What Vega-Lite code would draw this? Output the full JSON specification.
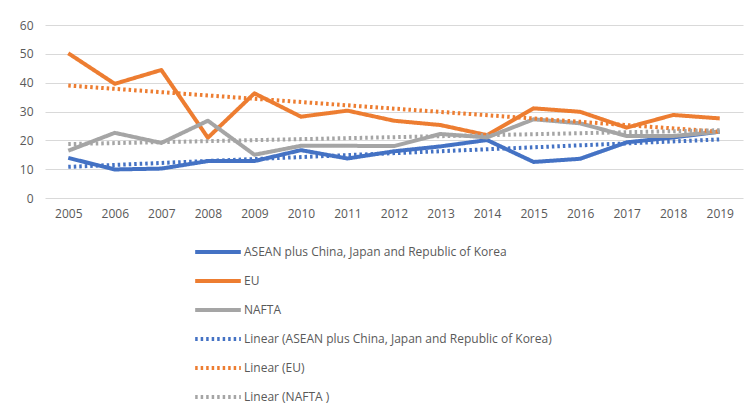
{
  "$schema": "https://vega.github.io/schema/vega-lite/v6.json",
  "width": 698,
  "height": 173,
  "autosize": {"type": "none"},
  "padding": {"left": 45, "top": 25, "right": 9, "bottom": 218},
  "background": "white",
  "config": {
    "view": {"stroke": null},
    "font": "Open Sans",
    "axis": {"labelColor": "#595959", "labelFontSize": 12, "ticks": false, "domain": false, "title": null}
  },
  "data": {
    "values": [
      {"year": 2005, "name": "ASEAN plus China, Japan and Republic of Korea", "value": 13.9},
      {"year": 2006, "name": "ASEAN plus China, Japan and Republic of Korea", "value": 9.9},
      {"year": 2007, "name": "ASEAN plus China, Japan and Republic of Korea", "value": 10.2},
      {"year": 2008, "name": "ASEAN plus China, Japan and Republic of Korea", "value": 12.8},
      {"year": 2009, "name": "ASEAN plus China, Japan and Republic of Korea", "value": 12.8},
      {"year": 2010, "name": "ASEAN plus China, Japan and Republic of Korea", "value": 16.6},
      {"year": 2011, "name": "ASEAN plus China, Japan and Republic of Korea", "value": 13.7},
      {"year": 2012, "name": "ASEAN plus China, Japan and Republic of Korea", "value": 16.2},
      {"year": 2013, "name": "ASEAN plus China, Japan and Republic of Korea", "value": 17.9},
      {"year": 2014, "name": "ASEAN plus China, Japan and Republic of Korea", "value": 20.1},
      {"year": 2015, "name": "ASEAN plus China, Japan and Republic of Korea", "value": 12.5},
      {"year": 2016, "name": "ASEAN plus China, Japan and Republic of Korea", "value": 13.6},
      {"year": 2017, "name": "ASEAN plus China, Japan and Republic of Korea", "value": 19.3},
      {"year": 2018, "name": "ASEAN plus China, Japan and Republic of Korea", "value": 21.0},
      {"year": 2019, "name": "ASEAN plus China, Japan and Republic of Korea", "value": 23.0},
      {"year": 2005, "name": "EU", "value": 50.2},
      {"year": 2006, "name": "EU", "value": 39.6},
      {"year": 2007, "name": "EU", "value": 44.4},
      {"year": 2008, "name": "EU", "value": 20.9},
      {"year": 2009, "name": "EU", "value": 36.3},
      {"year": 2010, "name": "EU", "value": 28.2},
      {"year": 2011, "name": "EU", "value": 30.3},
      {"year": 2012, "name": "EU", "value": 26.8},
      {"year": 2013, "name": "EU", "value": 25.3},
      {"year": 2014, "name": "EU", "value": 21.8},
      {"year": 2015, "name": "EU", "value": 31.1},
      {"year": 2016, "name": "EU", "value": 29.9},
      {"year": 2017, "name": "EU", "value": 24.4},
      {"year": 2018, "name": "EU", "value": 28.8},
      {"year": 2019, "name": "EU", "value": 27.6},
      {"year": 2005, "name": "NAFTA", "value": 16.4},
      {"year": 2006, "name": "NAFTA", "value": 22.6},
      {"year": 2007, "name": "NAFTA", "value": 19.1},
      {"year": 2008, "name": "NAFTA", "value": 26.8},
      {"year": 2009, "name": "NAFTA", "value": 15.0},
      {"year": 2010, "name": "NAFTA", "value": 18.1},
      {"year": 2011, "name": "NAFTA", "value": 18.1},
      {"year": 2012, "name": "NAFTA", "value": 18.0},
      {"year": 2013, "name": "NAFTA", "value": 22.2},
      {"year": 2014, "name": "NAFTA", "value": 21.0},
      {"year": 2015, "name": "NAFTA", "value": 27.3},
      {"year": 2016, "name": "NAFTA", "value": 25.9},
      {"year": 2017, "name": "NAFTA", "value": 21.5},
      {"year": 2018, "name": "NAFTA", "value": 21.5},
      {"year": 2019, "name": "NAFTA", "value": 23.0},
      {"year": 2005, "name": "Linear (ASEAN plus China, Japan and Republic of Korea)", "value": 10.8},
      {"year": 2019, "name": "Linear (ASEAN plus China, Japan and Republic of Korea)", "value": 20.3},
      {"year": 2005, "name": "Linear (EU)", "value": 39.0},
      {"year": 2019, "name": "Linear (EU)", "value": 23.0},
      {"year": 2005, "name": "Linear (NAFTA )", "value": 18.7},
      {"year": 2019, "name": "Linear (NAFTA )", "value": 23.5}
    ]
  },
  "mark": {"type": "line", "strokeCap": "butt", "strokeJoin": "round"},
  "encoding": {
    "x": {
      "field": "year",
      "type": "quantitative",
      "scale": {"domain": [2004.5, 2019.5], "nice": false, "zero": false},
      "axis": {"values": [2005, 2006, 2007, 2008, 2009, 2010, 2011, 2012, 2013, 2014, 2015, 2016, 2017, 2018, 2019], "format": "d", "grid": false, "labelPadding": 10, "labelFlush": false}
    },
    "y": {
      "field": "value",
      "type": "quantitative",
      "scale": {"domain": [0, 60], "nice": false},
      "axis": {"values": [0, 10, 20, 30, 40, 50, 60], "gridColor": "#d9d9d9", "gridWidth": 1, "labelPadding": 12}
    },
    "color": {
      "field": "name",
      "type": "nominal",
      "scale": {
        "domain": ["ASEAN plus China, Japan and Republic of Korea", "EU", "NAFTA", "Linear (ASEAN plus China, Japan and Republic of Korea)", "Linear (EU)", "Linear (NAFTA )"],
        "range": ["#4472C4", "#ED7D31", "#A5A5A5", "#4472C4", "#ED7D31", "#A5A5A5"]
      },
      "legend": {
        "orient": "none",
        "legendX": 152,
        "legendY": 206,
        "title": null,
        "direction": "vertical",
        "symbolType": "M-1.22,0H1.22",
        "symbolSize": 1400,
        "labelFontSize": 12,
        "labelColor": "#595959",
        "labelOffset": 5,
        "rowPadding": 0,
        "labelLimit": 500
      }
    },
    "strokeDash": {
      "field": "name",
      "type": "nominal",
      "scale": {
        "domain": ["ASEAN plus China, Japan and Republic of Korea", "EU", "NAFTA", "Linear (ASEAN plus China, Japan and Republic of Korea)", "Linear (EU)", "Linear (NAFTA )"],
        "range": [[1, 0], [1, 0], [1, 0], [2.5, 3], [2.5, 3], [2.5, 3]]
      }
    },
    "strokeWidth": {
      "field": "name",
      "type": "nominal",
      "scale": {
        "domain": ["ASEAN plus China, Japan and Republic of Korea", "EU", "NAFTA", "Linear (ASEAN plus China, Japan and Republic of Korea)", "Linear (EU)", "Linear (NAFTA )"],
        "range": [4, 4, 4, 2.5, 2.5, 2.5]
      }
    }
  }
}
